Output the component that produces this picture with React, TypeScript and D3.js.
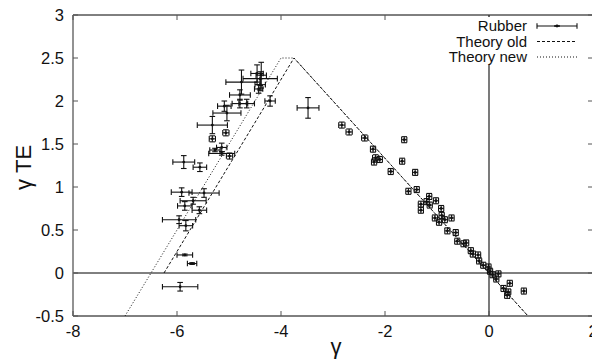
import * as d3 from "d3";

// gamma vs gamma_TE, rubber data with x/y error bars
const rubberGamma = [
  -4.46, -4.38, -4.40, -4.40, -4.43, -4.76, -4.79, -4.79, -4.66, -4.21,
  -5.09, -5.04, -5.32, -5.06, -5.32, -5.14, -5.27, -5.14, -4.99, -5.87,
  -5.56, -5.91, -5.48, -5.69, -5.85, -5.57, -5.96, -5.83, -5.85, -5.71,
  -5.94, -3.48,
  -2.83, -2.69, -2.39, -1.63, -2.23, -2.18, -2.10, -2.21, -1.67, -1.89,
  -1.42, -1.55, -1.39, -1.15, -1.02, -1.20, -1.31, -1.31, -1.14, -0.92,
  -0.91, -1.04, -0.96, -0.85, -0.72, -0.80, -0.64, -0.61, -0.49, -0.44,
  -0.35, -0.31, -0.21, -0.19, -0.11, -0.01, 0.02, 0.07, 0.18, 0.14,
  0.40, 0.28, 0.37, 0.35, 0.67,
];
const rubberTE = [
  2.32, 2.30, 2.26, 2.19, 2.14, 2.22, 2.07, 1.97, 1.97, 2.0,
  1.94, 1.86, 1.72, 1.63, 1.56, 1.46, 1.43, 1.39, 1.36, 1.29,
  1.23, 0.94, 0.93, 0.84, 0.78, 0.73, 0.62, 0.55, 0.21, 0.11,
  -0.16, 1.92,
  1.72, 1.64, 1.57, 1.55, 1.44, 1.34, 1.32, 1.29, 1.30, 1.18,
  1.17, 0.95, 0.97, 0.89, 0.84, 0.83, 0.80, 0.73, 0.79, 0.75,
  0.67, 0.64, 0.59, 0.62, 0.64, 0.49, 0.47, 0.37, 0.34, 0.35,
  0.26, 0.22, 0.21, 0.14, 0.09, 0.07, 0.02, -0.02, -0.01, -0.07,
  -0.12, -0.18, -0.22, -0.26, -0.21,
];
const rubberGammaErr = [
  0.12, 0.10, 0.33, 0.10, 0.08, 0.30, 0.20, 0.15, 0.15, 0.10,
  0.13, 0.27, 0.29, 0.06, 0.06, 0.10, 0.10, 0.25, 0.06, 0.21,
  0.13, 0.20, 0.29, 0.25, 0.14, 0.14, 0.32, 0.13, 0.15, 0.09,
  0.34, 0.21,
  0.06, 0.06, 0.06, 0.05, 0.05, 0.06, 0.05, 0.05, 0.05, 0.05,
  0.05, 0.05, 0.05, 0.05, 0.05, 0.05, 0.05, 0.05, 0.05, 0.05,
  0.05, 0.05, 0.05, 0.05, 0.05, 0.05, 0.05, 0.05, 0.05, 0.05,
  0.05, 0.05, 0.05, 0.05, 0.05, 0.05, 0.05, 0.05, 0.05, 0.05,
  0.05, 0.05, 0.05, 0.05, 0.05,
];
const rubberTEErr = [
  0.10, 0.15, 0.08, 0.07, 0.05, 0.14, 0.06, 0.05, 0.05, 0.06,
  0.06, 0.09, 0.10, 0.035, 0.035, 0.05, 0.02, 0.02, 0.035, 0.075,
  0.05, 0.05, 0.05, 0.04, 0.05, 0.04, 0.045, 0.06, 0.01, 0.01,
  0.05, 0.12,
  0.035, 0.035, 0.035, 0.035, 0.035, 0.035, 0.035, 0.035, 0.035, 0.035,
  0.035, 0.035, 0.035, 0.035, 0.035, 0.035, 0.035, 0.035, 0.035, 0.035,
  0.035, 0.035, 0.035, 0.035, 0.035, 0.035, 0.035, 0.035, 0.035, 0.035,
  0.035, 0.035, 0.035, 0.035, 0.035, 0.035, 0.035, 0.035, 0.035, 0.035,
  0.035, 0.035, 0.035, 0.035, 0.035,
];

const theoryOldGamma = [-6.25, -3.75, 0.75];
const theoryOldTE = [0, 2.5, -0.5];
const theoryNewGamma = [-7.0, -4.0, -3.75, 0.75];
const theoryNewTE = [-0.5, 2.5, 2.5, -0.5];

const xTicks = [-8, -6, -4, -2, 0, 2];
const yTicks = [-0.5, 0, 0.5, 1, 1.5, 2, 2.5, 3];

const W = 592;
const H = 362;
const margin = { top: 15, right: -1, bottom: 46, left: 73 };
const font = "'Liberation Sans', Arial, Helvetica, sans-serif";

function ErrPoint({ cx, cy, x0, x1, y0, y1 }: any) {
  const c = 2.8;
  return (
    <g stroke="#111" strokeWidth={1.1} fill="none">
      <line x1={x0} x2={x1} y1={cy} y2={cy} />
      <line x1={x0} x2={x0} y1={cy - c} y2={cy + c} />
      <line x1={x1} x2={x1} y1={cy - c} y2={cy + c} />
      <line x1={cx} x2={cx} y1={y0} y2={y1} />
      <line x1={cx - c} x2={cx + c} y1={y0} y2={y0} />
      <line x1={cx - c} x2={cx + c} y1={y1} y2={y1} />
      <circle cx={cx} cy={cy} r={1.4} fill="#111" stroke="none" />
    </g>
  );
}

export default function App() {
  const x = d3.scaleLinear().domain([-8, 2]).range([margin.left, W - margin.right]);
  const y = d3.scaleLinear().domain([-0.5, 3]).range([H - margin.bottom, margin.top]);
  const x0 = x.range()[0];
  const x1 = x.range()[1];
  const yb = y.range()[0];
  const yt = y.range()[1];

  const line = d3
    .line<[number, number]>()
    .x((d) => x(d[0]))
    .y((d) => y(d[1]));
  const oldPts = theoryOldGamma.map((g, i) => [g, theoryOldTE[i]] as [number, number]);
  const newPts = theoryNewGamma.map((g, i) => [g, theoryNewTE[i]] as [number, number]);

  const legendX = 527;
  const legendY = [26, 41.5, 57];

  return (
    <svg
      width={W}
      height={H}
      style={{ position: "absolute", left: 0, top: 0, background: "#fff" }}
      fontFamily={font}
    >
      <rect width={W} height={H} fill="#fff" />

      {/* zero lines */}
      <line x1={x0} x2={x1} y1={y(0)} y2={y(0)} stroke="#000" strokeWidth={1} />
      <line x1={x(0)} x2={x(0)} y1={yt} y2={yb} stroke="#333" strokeWidth={1.3} />

      {/* frame */}
      <line x1={x0} x2={x1} y1={yt} y2={yt} stroke="#000" strokeWidth={1} />
      <line x1={x0} x2={x1} y1={yb} y2={yb} stroke="#000" strokeWidth={1} />
      <line x1={x0} x2={x0} y1={yt} y2={yb} stroke="#777" strokeWidth={1.6} />
      <line x1={x1} x2={x1} y1={yt} y2={yb} stroke="#000" strokeWidth={1} />

      {/* ticks */}
      {yTicks.map((t) => (
        <g key={"y" + t}>
          <line x1={x0} x2={x0 + 5} y1={y(t)} y2={y(t)} stroke="#555" />
          <line x1={x1} x2={x1 - 5} y1={y(t)} y2={y(t)} stroke="#555" />
          <text
            x={x0 - 9}
            y={y(t)}
            dy="0.36em"
            textAnchor="end"
            fontSize={16.5}
            fill="#111"
          >
            {t}
          </text>
        </g>
      ))}
      {xTicks.map((t) => (
        <g key={"x" + t}>
          <line x1={x(t)} x2={x(t)} y1={yb} y2={yb - 5} stroke="#555" />
          <line x1={x(t)} x2={x(t)} y1={yt} y2={yt + 5} stroke="#555" />
          <text x={x(t)} y={yb + 21} textAnchor="middle" fontSize={16.5} fill="#111">
            {t}
          </text>
        </g>
      ))}

      {/* axis titles */}
      <text
        transform={`translate(31,${(yt + yb) / 2 + 2}) rotate(-90)`}
        textAnchor="middle"
        fontSize={22}
        fill="#111"
      >
        γ TE
      </text>
      <text x={(x0 + x1) / 2 + 3} y={H - 8} textAnchor="middle" fontSize={22} fill="#111">
        γ
      </text>

      {/* theory lines */}
      <path d={line(oldPts) ?? ""} fill="none" stroke="#111" strokeWidth={1} strokeDasharray="3,2" />
      <path d={line(newPts) ?? ""} fill="none" stroke="#111" strokeWidth={1} strokeDasharray="1,2" />

      {/* data */}
      {rubberGamma.map((g, i) => (
        <ErrPoint
          key={i}
          cx={x(g)}
          cy={y(rubberTE[i])}
          x0={x(g - rubberGammaErr[i])}
          x1={x(g + rubberGammaErr[i])}
          y0={y(rubberTE[i] + rubberTEErr[i])}
          y1={y(rubberTE[i] - rubberTEErr[i])}
        />
      ))}

      {/* legend */}
      <rect x={legendX - 80} y={17} width={135} height={48} fill="#fff" />
      <g fontSize={15} fill="#111" textAnchor="end">
        <text x={legendX} y={legendY[0]} dy="0.36em">Rubber</text>
        <text x={legendX} y={legendY[1]} dy="0.36em">Theory old</text>
        <text x={legendX} y={legendY[2]} dy="0.36em">Theory new</text>
      </g>
      <ErrPoint cx={557} cy={legendY[0]} x0={537} x1={577} y0={legendY[0]} y1={legendY[0]} />
      <line x1={537} x2={577} y1={legendY[1]} y2={legendY[1]} stroke="#111" strokeDasharray="3,2" />
      <line x1={537} x2={577} y1={legendY[2]} y2={legendY[2]} stroke="#111" strokeDasharray="1,2" />
    </svg>
  );
}
